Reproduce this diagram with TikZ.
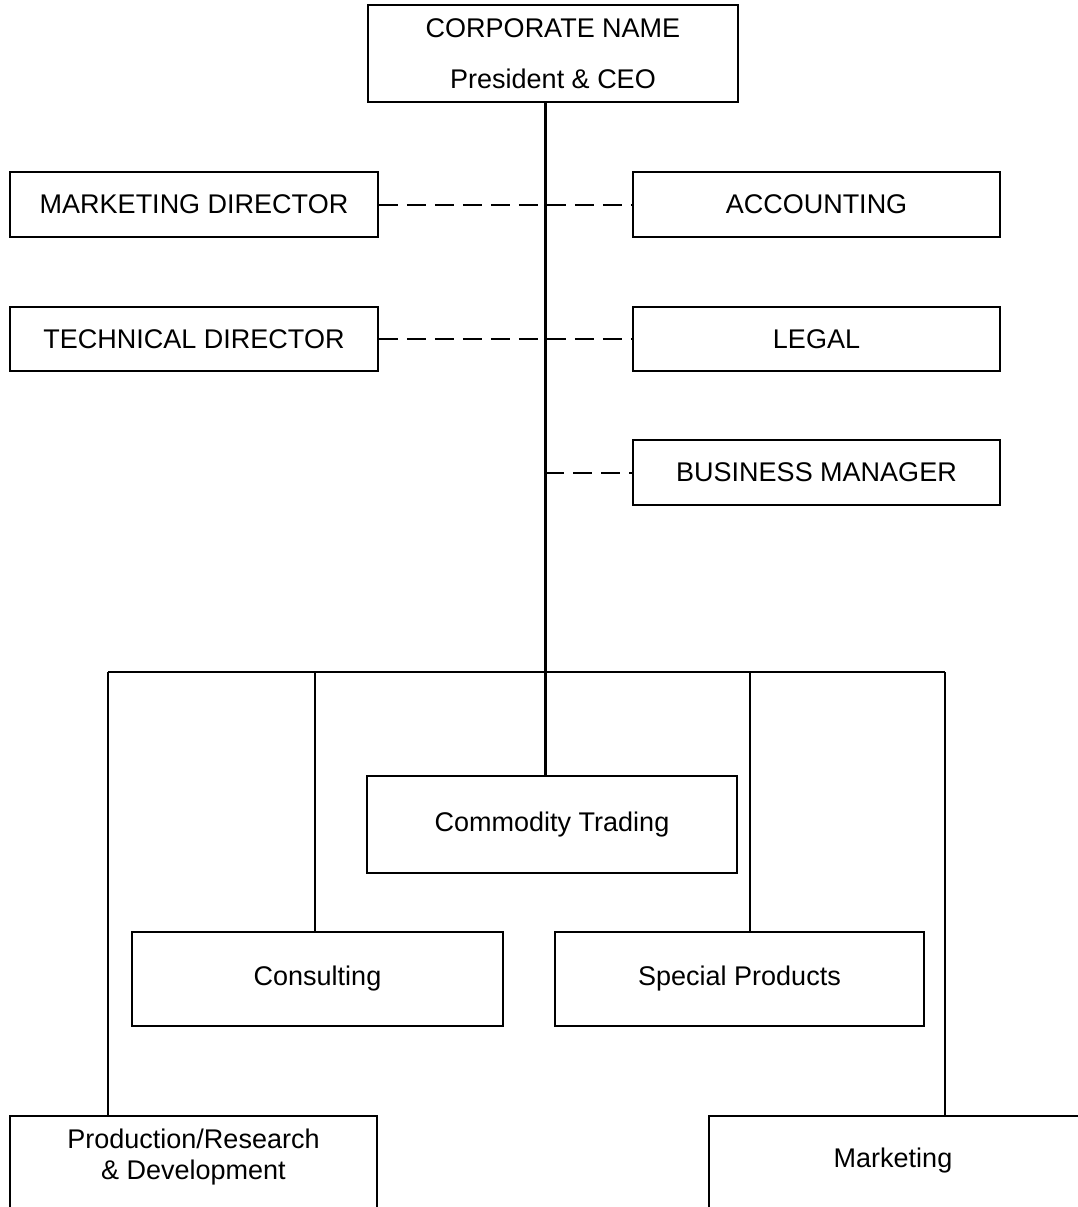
\documentclass[tikz,border=0pt]{standalone}
\usepackage{fontspec}
\setmainfont{Liberation Sans}
\tikzset{
	unit/.style={draw, line width=1.8pt, rectangle, inner sep=0pt, align=center, font=\fontsize{27}{33}\selectfont},
	staff/.style={line width=2pt, dash pattern=on 19pt off 9pt},
	branch/.style={line width=2.2pt}
}
\begin{document}
\begin{tikzpicture}[x=1pt,y=-1pt]
	\useasboundingbox (0,0) rectangle (1078,1207);
	\node [unit, minimum width=370, minimum height=97] (ceo) at (553,53.5) {CORPORATE NAME\\[18pt]President \& CEO};
	\node [unit, minimum width=368, minimum height=65] (mktdir) at (194,204.5) {MARKETING DIRECTOR};
	\node [unit, minimum width=367, minimum height=65] (acct) at (816.5,204.5) {ACCOUNTING};
	\node [unit, minimum width=368, minimum height=64] (techdir) at (194,339) {TECHNICAL DIRECTOR};
	\node [unit, minimum width=367, minimum height=64] (legal) at (816.5,339) {LEGAL};
	\node [unit, minimum width=367, minimum height=65] (busmgr) at (816.5,472.5) {BUSINESS MANAGER};
	\node [unit, minimum width=370, minimum height=97] (trading) at (552,824.5) {Commodity Trading};
	\node [unit, minimum width=371, minimum height=94] (consult) at (317.5,979) {Consulting};
	\node [unit, minimum width=369, minimum height=94] (special) at (739.5,979) {Special Products};
	\node [unit, minimum width=367, minimum height=100, anchor=north] (prod) at (193.5,1115) {};
	\node [unit, minimum width=377, minimum height=100, anchor=north west] (mkt) at (708,1115) {};
	\node [below, yshift=-8pt, align=center, font=\fontsize{27}{31}\selectfont] (prodtext) at (prod.north) {\strut Production/Research\\\strut \& Development};
	\node [font=\fontsize{27}{33}\selectfont] (mkttext) at (893,1161) {Marketing};
	% spine and bus
	\coordinate (spine) at (545,672);
	\coordinate (dprod) at (108,672);
	\coordinate (dcons) at (315,672);
	\coordinate (dspec) at (750,672);
	\coordinate (dmkt) at (945,672);
	\draw [line width=3pt] (ceo.south -| spine) -- (trading.north -| spine);
	\draw [branch] (dprod) -- (dmkt);
	\foreach \d/\n in {dprod/prod, dcons/consult, dspec/special, dmkt/mkt} {
		\draw [branch] (\d) -- (\d |- \n.north);
	}
	% staff lines
	\draw [staff] (mktdir.east) -- (acct.west);
	\draw [staff] (techdir.east) -- (legal.west);
	\draw [staff] (spine |- busmgr.west) -- (busmgr.west);
\end{tikzpicture}
\end{document}
